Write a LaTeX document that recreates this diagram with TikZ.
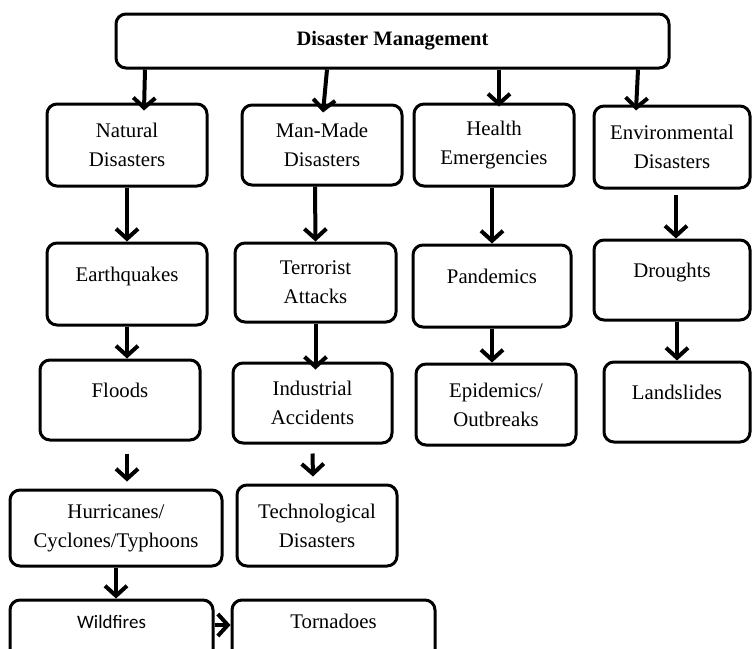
\documentclass[tikz,border=0pt]{standalone}
\usepackage{fontspec}
\setmainfont{Liberation Serif}
\newfontfamily\calibrifont{Carlito}
\usepackage{tikz}
\usetikzlibrary{shapes.geometric, arrows.meta}
\tikzstyle{box} = [rectangle, 
rounded corners=10pt,
minimum width=160pt, 
minimum height=82pt,
text centered, 
align=center,
line width=3pt,
draw=black,
font=\fontsize{20.8}{29}\selectfont]
\tikzstyle{single} = [text height=14pt, text depth=20pt]
\tikzstyle{arrow} = [line width=4pt,-{Straight Barb[length=10pt,width=22pt]}]

\begin{document}
\begin{tikzpicture}[x=1pt,y=-1pt]
\useasboundingbox (0,0) rectangle (752,648);

% Boîte principale
\node[box, minimum width=553pt, minimum height=54pt, font=\fontsize{20.5}{29}\selectfont\bfseries] (dm) at (392.5,41) {Disaster Management};

% Première ligne de catégories
\node[box] (nat) at (127,145) {Natural\\Disasters};
\node[box, minimum height=80pt] (mm) at (322,145) {Man-Made\\Disasters};
\node[box] (hea) at (494,145) {Health\\Emergencies};
\node[box, minimum width=156pt] (env) at (672,147) {Environmental\\Disasters};

% Deuxième ligne
\node[box, single] (eq) at (127,284) {Earthquakes};
\node[box, minimum width=161pt, minimum height=79pt] (ter) at (315.5,282.5) {Terrorist\\Attacks};
\node[box, single, minimum width=158pt] (pan) at (492,286) {Pandemics};
\node[box, single, minimum width=156pt, minimum height=80pt] (dro) at (672,280) {Droughts};

% Troisième ligne
\node[box, single, minimum height=80pt] (flo) at (120,400) {Floods};
\node[box, minimum width=159pt, minimum height=80pt] (ind) at (312.5,403) {Industrial\\Accidents};
\node[box, minimum height=81pt] (epi) at (496,404.5) {Epidemics/\\Outbreaks};
\node[box, single, minimum width=146pt, minimum height=80pt] (lan) at (677,402) {Landslides};

% Quatrième ligne
\node[box, minimum width=212pt, minimum height=76pt] (hur) at (116,528) {Hurricanes/\\Cyclones/Typhoons};
\node[box, minimum height=81pt] (tec) at (317,525.5) {Technological\\Disasters};

% Dernière ligne (coupée en bas)
\node[box, single, minimum width=203pt, minimum height=62pt, font=\calibrifont\fontsize{19}{23}\selectfont] (wil) at (111.5,631) {Wildfires};
\node[box, single, minimum width=203pt, minimum height=62pt] (tor) at (333.5,631) {Tornadoes};

% Flèches depuis la boîte principale
\draw[arrow] ([xshift=18pt]nat.north |- dm.south) -- ([xshift=17pt,yshift=-8pt]nat.north);
\draw[arrow] ([xshift=5pt]mm.north |- dm.south) -- ([xshift=1pt,yshift=-9pt]mm.north);
\draw[arrow] ([xshift=5pt]hea.north |- dm.south) -- ([xshift=5pt,yshift=-4pt]hea.north);
\draw[arrow] ([xshift=-34pt]env.north |- dm.south) -- ([xshift=-36pt,yshift=-6pt]env.north);

% Flèches verticales
\draw[arrow] (nat.south) -- (eq.north);
\draw[arrow] ([xshift=-7pt]mm.south) -- (ter.north);
\draw[arrow] (pan.north |- hea.south) -- (pan.north);
\draw[arrow] ([xshift=4pt,yshift=-5pt]env.south) -- ([xshift=4pt]dro.north);

\draw[arrow] (eq.south) -- (eq.south |- flo.north);
\draw[arrow] (ter.south) -- ([xshift=3pt,yshift=-8pt]ind.north);
\draw[arrow] (pan.south) -- (pan.south |- epi.north);
\draw[arrow] (lan.north |- dro.south) -- (lan.north);

\draw[arrow] ([xshift=7pt,yshift=-12pt]flo.south) -- ([xshift=11pt,yshift=7pt]hur.north);
\draw[arrow] ([yshift=-9pt]ind.south) -- ([xshift=-4pt,yshift=7pt]tec.north);

\draw[arrow] (hur.south) -- (hur.south |- wil.north);
\draw[arrow] ([yshift=6pt]wil.east) -- ([yshift=6pt]tor.west);

\end{tikzpicture}
\end{document}
